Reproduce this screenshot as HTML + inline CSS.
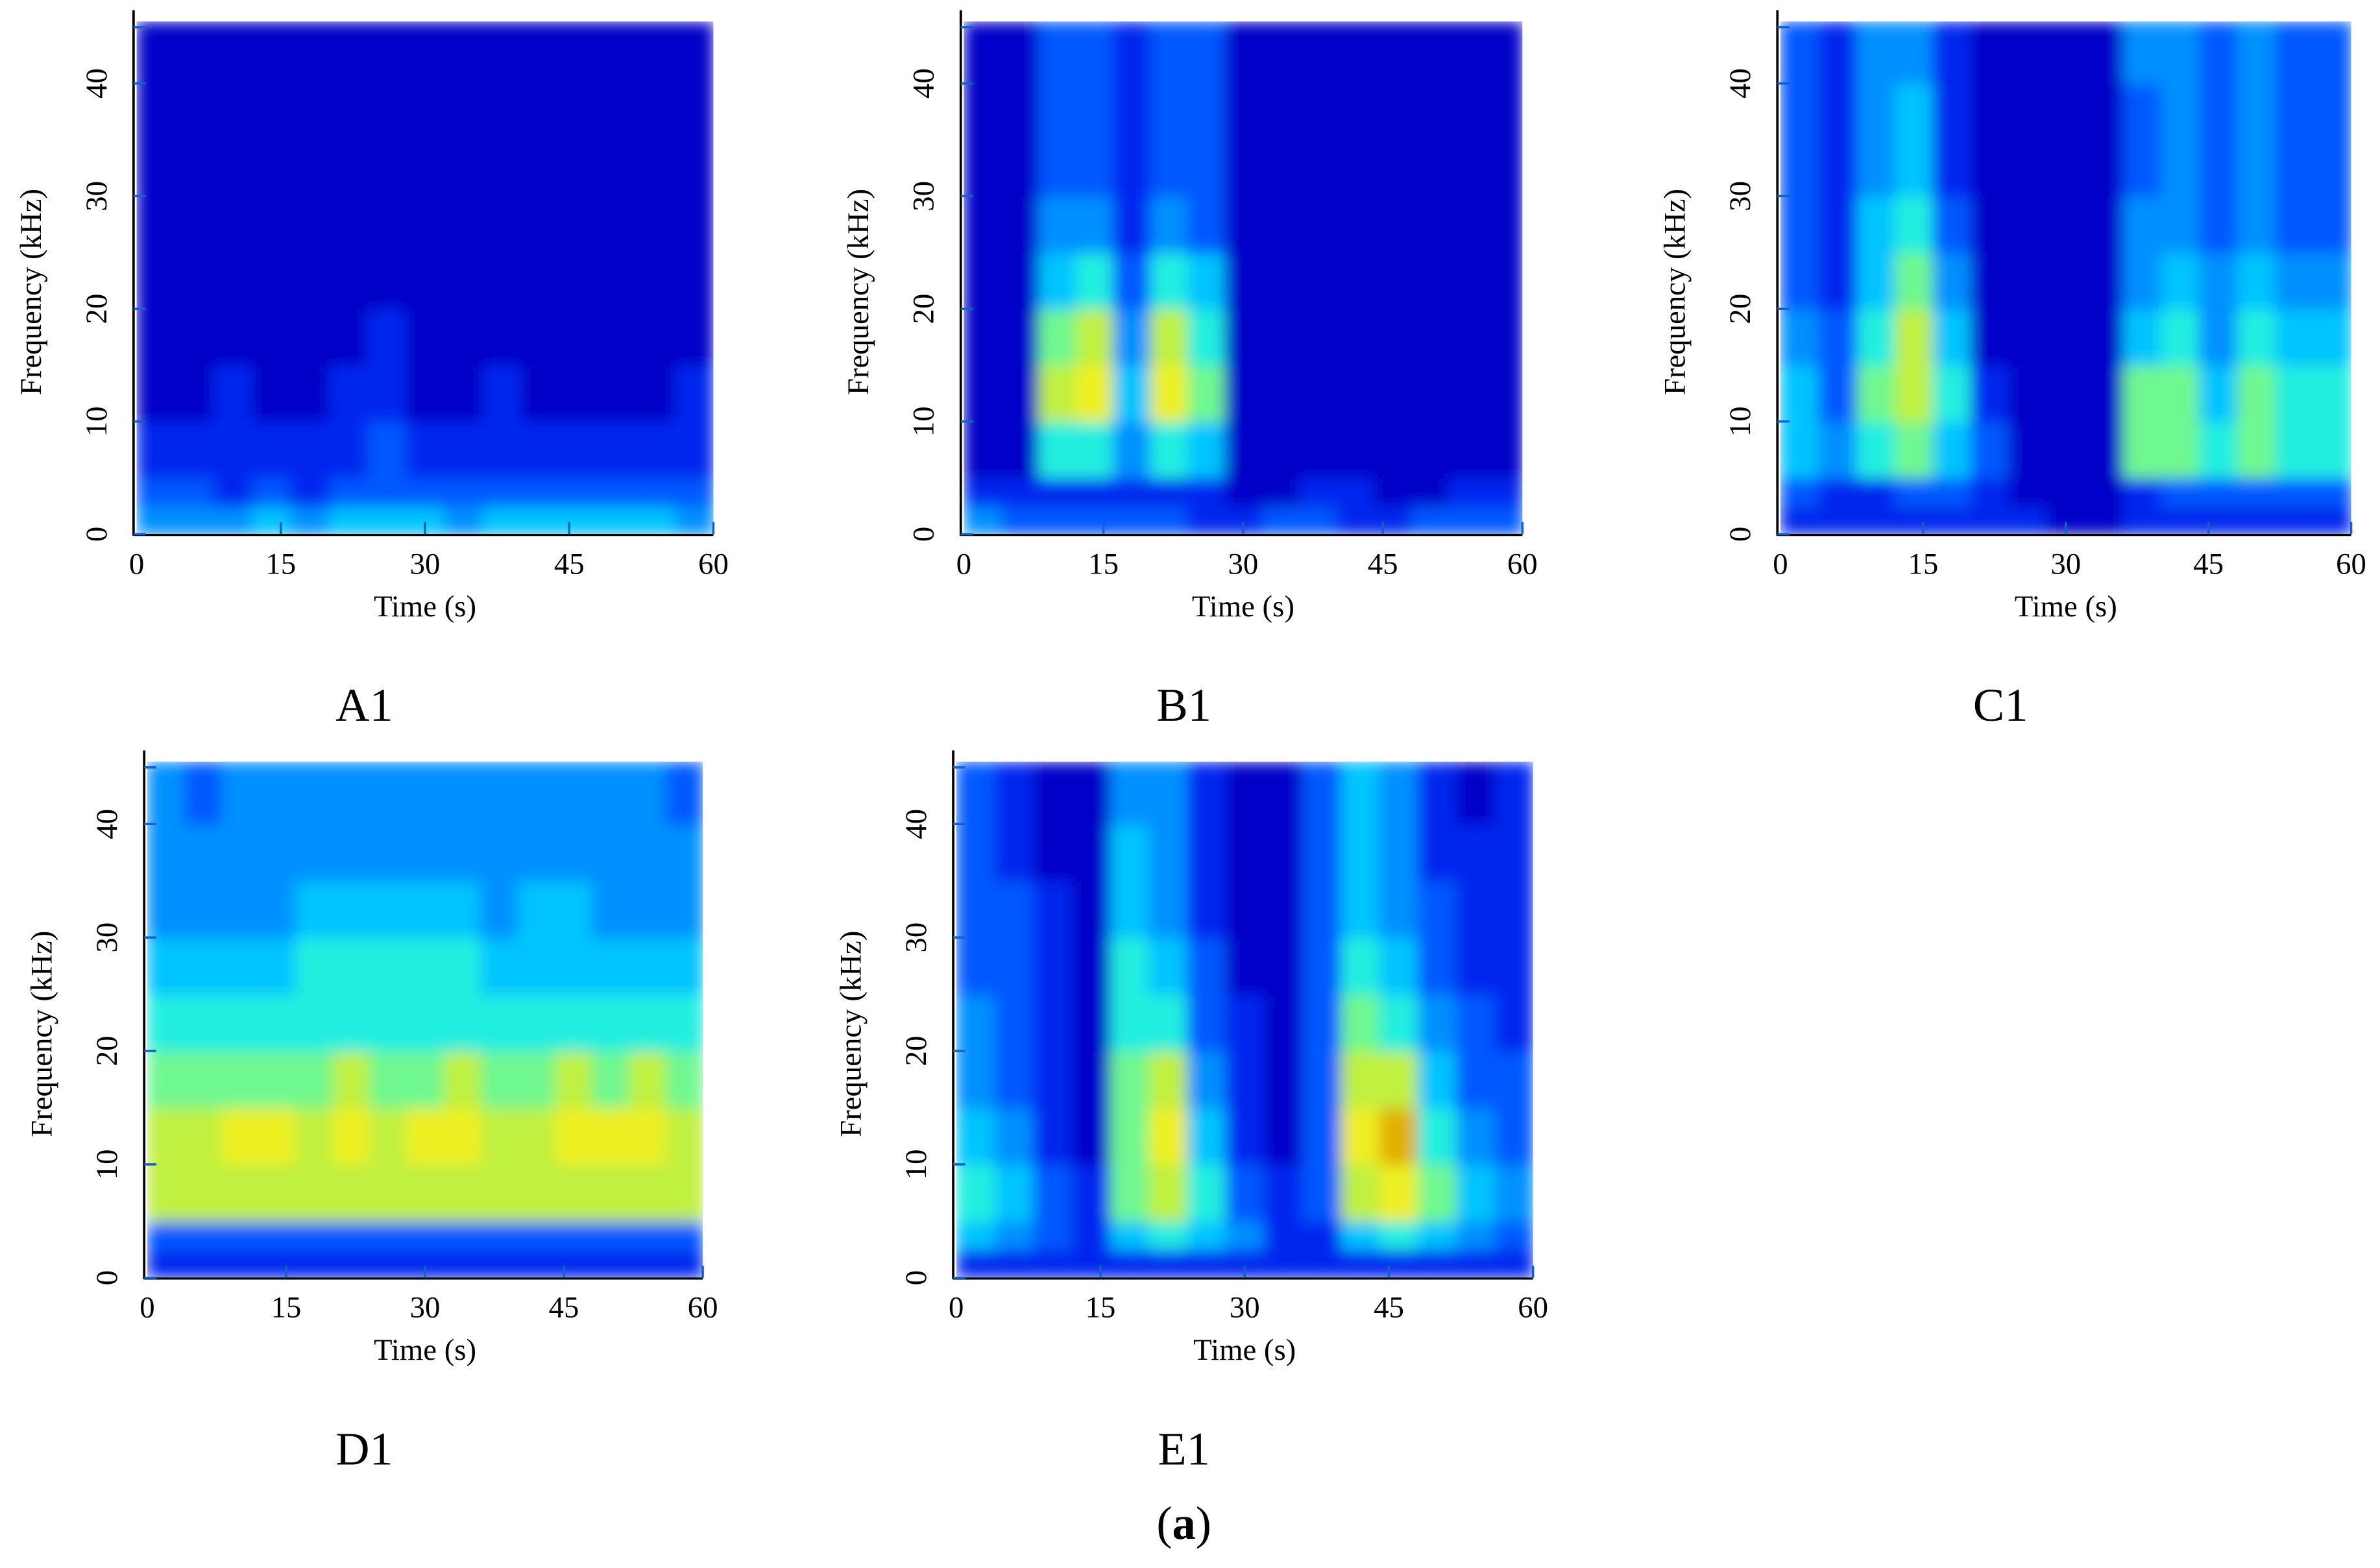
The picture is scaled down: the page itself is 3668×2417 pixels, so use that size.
<!DOCTYPE html>
<html><head><meta charset="utf-8">
<style>
html,body{margin:0;padding:0;background:#fff;}
svg{display:block;}
text{font-family:"Liberation Serif",serif;fill:#000;}
</style></head>
<body>
<svg id="fig" xmlns="http://www.w3.org/2000/svg" width="3668" height="2417" viewBox="0 0 1568 1033.2">
<defs>
<filter id="blur" x="0" y="0" width="1" height="1"><feGaussianBlur stdDeviation="5" edgeMode="duplicate"/></filter>
</defs>
</svg>
<script>
// shared bins
const timeEdges = [0,4,8,12,16,20,24,28,32,36,40,44,48,52,56,60];
const freqEdges = [0,2.5,5,10,15,20,25,30,35,40,45.5];
const xTicks = [0,15,30,45,60];
const yTicks = [0,10,20,30,40];
const panelLabels = ["A1","B1","C1","D1","E1"];
// intensities (rows low freq -> high freq, 15 time columns each)
const dataA1 = [
 [3,3,3,4,3,4,4,4,3,4,4,4,4,4,3],
 [2,2,1,2,1,2,2,2,2,2,2,2,2,2,2],
 [1,1,1,1,1,1,2,1,1,1,1,1,1,1,1],
 [0,0,1,0,0,1,1,0,0,1,0,0,0,0,1],
 [0,0,0,0,0,0,1,0,0,0,0,0,0,0,0],
 [0,0,0,0,0,0,0,0,0,0,0,0,0,0,0],
 [0,0,0,0,0,0,0,0,0,0,0,0,0,0,0],
 [0,0,0,0,0,0,0,0,0,0,0,0,0,0,0],
 [0,0,0,0,0,0,0,0,0,0,0,0,0,0,0],
 [0,0,0,0,0,0,0,0,0,0,0,0,0,0,0]];
const dataB1 = [
 [3,2,2,2,2,2,1,1,2,2,1,1,2,2,2],
 [1,1,1,1,1,1,1,0,0,1,1,0,0,1,1],
 [0,0,5,5,3,5,4,0,0,0,0,0,0,0,0],
 [0,0,7,8,4,8,6,0,0,0,0,0,0,0,0],
 [0,0,6,7,3,7,5,0,0,0,0,0,0,0,0],
 [0,0,4,5,2,5,4,0,0,0,0,0,0,0,0],
 [0,0,3,3,1,3,2,0,0,0,0,0,0,0,0],
 [0,0,2,2,1,2,2,0,0,0,0,0,0,0,0],
 [0,0,2,2,1,2,2,0,0,0,0,0,0,0,0],
 [0,0,2,2,1,2,2,0,0,0,0,0,0,0,0]];
const dataC1 = [
 [1,1,1,1,1,1,1,0,0,1,1,1,1,1,1],
 [2,1,1,2,2,1,0,0,0,1,2,2,2,2,2],
 [4,3,5,6,4,2,0,0,0,6,6,5,6,5,5],
 [4,2,6,7,5,1,0,0,0,6,6,4,6,5,5],
 [3,2,5,7,4,0,0,0,0,4,5,3,5,4,4],
 [2,1,4,6,3,0,0,0,0,3,4,3,4,3,3],
 [2,1,4,5,2,0,0,0,0,3,3,2,3,2,2],
 [2,1,3,4,1,0,0,0,0,2,3,2,3,2,2],
 [2,1,3,4,1,0,0,0,0,2,3,2,3,2,2],
 [2,1,3,3,1,0,0,0,0,3,3,2,3,2,2]];
const dataD1 = [
 [1,1,1,1,1,1,1,1,1,1,1,1,1,1,1],
 [2,2,2,2,2,2,2,2,2,2,2,2,2,2,2],
 [7,7,7,7,7,7,7,7,7,7,7,7,7,7,7],
 [7,7,8,8,7,8,7,8,8,7,7,8,8,8,7],
 [6,6,6,6,6,7,6,6,7,6,6,7,6,7,6],
 [5,5,5,5,5,5,5,5,5,5,5,5,5,5,5],
 [4,4,4,4,5,5,5,5,5,4,4,4,4,4,4],
 [3,3,3,3,4,4,4,4,4,3,4,4,3,3,3],
 [3,3,3,3,3,3,3,3,3,3,3,3,3,3,3],
 [3,2,3,3,3,3,3,3,3,3,3,3,3,3,2]];
const dataE1 = [
 [1,1,1,1,1,1,1,1,1,1,1,1,1,1,1],
 [4,3,2,1,4,5,4,3,1,1,4,5,4,3,2],
 [5,4,2,1,6,7,5,2,1,2,7,8,6,4,3],
 [4,3,1,0,6,8,4,1,0,2,8,9,5,3,2],
 [3,2,1,0,6,7,3,1,0,2,7,7,4,2,2],
 [3,2,1,0,5,5,2,1,0,2,6,5,3,2,1],
 [2,2,1,0,5,4,2,0,0,2,5,4,2,1,1],
 [2,2,1,0,4,3,1,0,0,2,4,3,2,1,1],
 [2,1,0,0,4,3,1,0,0,2,4,3,1,1,1],
 [2,1,0,0,3,3,1,0,0,2,4,3,1,0,1]];
const panelData = [dataA1,dataB1,dataC1,dataD1,dataE1];

const cmap = ["#0000c8","#0028ee","#0058ff","#0090ff","#00c4ff","#20eee0","#70f890","#c0f040","#eef020","#e0b000"];
const layout = [
 {x0:90,x1:470,yb:352,k:7.425,lx:240,ly:463},
 {x0:635,x1:1003,yb:352,k:7.425,lx:780,ly:463},
 {x0:1173,x1:1549,yb:352,k:7.425,lx:1318,ly:463},
 {x0:97,x1:463,yb:842,k:7.475,lx:240,ly:953},
 {x0:630,x1:1010,yb:842,k:7.475,lx:780,ly:953}];
const NS="http://www.w3.org/2000/svg";
const svg=document.getElementById('fig');
function mk(tag,attrs,parent){const e=document.createElementNS(NS,tag);for(const a in attrs)e.setAttribute(a,attrs[a]);(parent||svg).appendChild(e);return e;}

panelData.forEach((data,p)=>{
 const L=layout[p];
 const xs=t=>L.x0+t*(L.x1-L.x0)/60;
 const ys=f=>L.yb-f*L.k;
 const g=mk('g',{});
 
 
 const clipId='clip'+p;
 const cp=mk('clipPath',{id:clipId},svg);
 mk('rect',{x:xs(0),y:ys(45.5),width:xs(60)-xs(0),height:ys(0)-ys(45.5)},cp);
 const hm=mk('g',{'clip-path':'url(#'+clipId+')'},g);
 const inner=mk('g',{filter:'url(#blur)'},hm);
 mk('rect',{x:xs(0),y:ys(45.5),width:xs(60)-xs(0),height:ys(0)-ys(45.5),fill:cmap[0]},inner);
 data.forEach((row,r)=>{row.forEach((v,c)=>{
  const cell=mk('rect',{x:xs(timeEdges[c]),y:ys(freqEdges[r+1]),width:xs(timeEdges[c+1])-xs(timeEdges[c])+0.5,height:ys(freqEdges[r])-ys(freqEdges[r+1])+0.5,fill:cmap[Math.max(0,Math.min(9,v))]},inner);
  
  
 });});
 const ax=mk('line',{x1:xs(0)-2,y1:ys(46.5),x2:xs(0)-2,y2:ys(0)+1,stroke:'#000','stroke-width':1.6},g);
 
 
 const bx=mk('line',{x1:xs(0)-2,y1:ys(0)+0.5,x2:xs(60),y2:ys(0)+0.5,stroke:'#000','stroke-width':1.4},g);
 
 
 yTicks.concat([45]).forEach(v=>{
  mk('line',{x1:xs(0)-2,y1:ys(v),x2:xs(0)+6,y2:ys(v),stroke:'#1560c8','stroke-width':1.5},g);
 });
 yTicks.forEach(v=>{
  const t=mk('text',{x:0,y:0,'font-size':20,'text-anchor':'middle',transform:'translate('+(xs(0)-20)+','+ys(v)+') rotate(-90)'},g);
  t.textContent=v;
  
  
 });
 xTicks.forEach(v=>{
  if(v>0) mk('line',{x1:xs(v),y1:ys(0),x2:xs(v),y2:ys(0)-8,stroke:'#1560c8','stroke-width':1.5},g);
  const t=mk('text',{x:xs(v),y:ys(0)+26,'font-size':20,'text-anchor':'middle'},g);
  t.textContent=v;
  
  
 });
 const xt=mk('text',{x:(xs(0)+xs(60))/2,y:ys(0)+54,'font-size':20,'text-anchor':'middle'},g);
 xt.textContent='Time (s)';
 
 
 const yt=mk('text',{x:0,y:0,'font-size':20,'text-anchor':'middle',transform:'translate('+(xs(0)-63)+','+ys(21.5)+') rotate(-90)'},g);
 yt.textContent='Frequency (kHz)';
 
 
 const pl=mk('text',{x:L.lx,y:L.ly+12,'font-size':31,'text-anchor':'middle'},g);
 pl.textContent=panelLabels[p];
 
 
});
const cap=mk('text',{x:780,y:1014,'font-size':31,'text-anchor':'middle'});
cap.innerHTML='(<tspan font-weight="bold">a</tspan>)';


</script>
</body></html>
